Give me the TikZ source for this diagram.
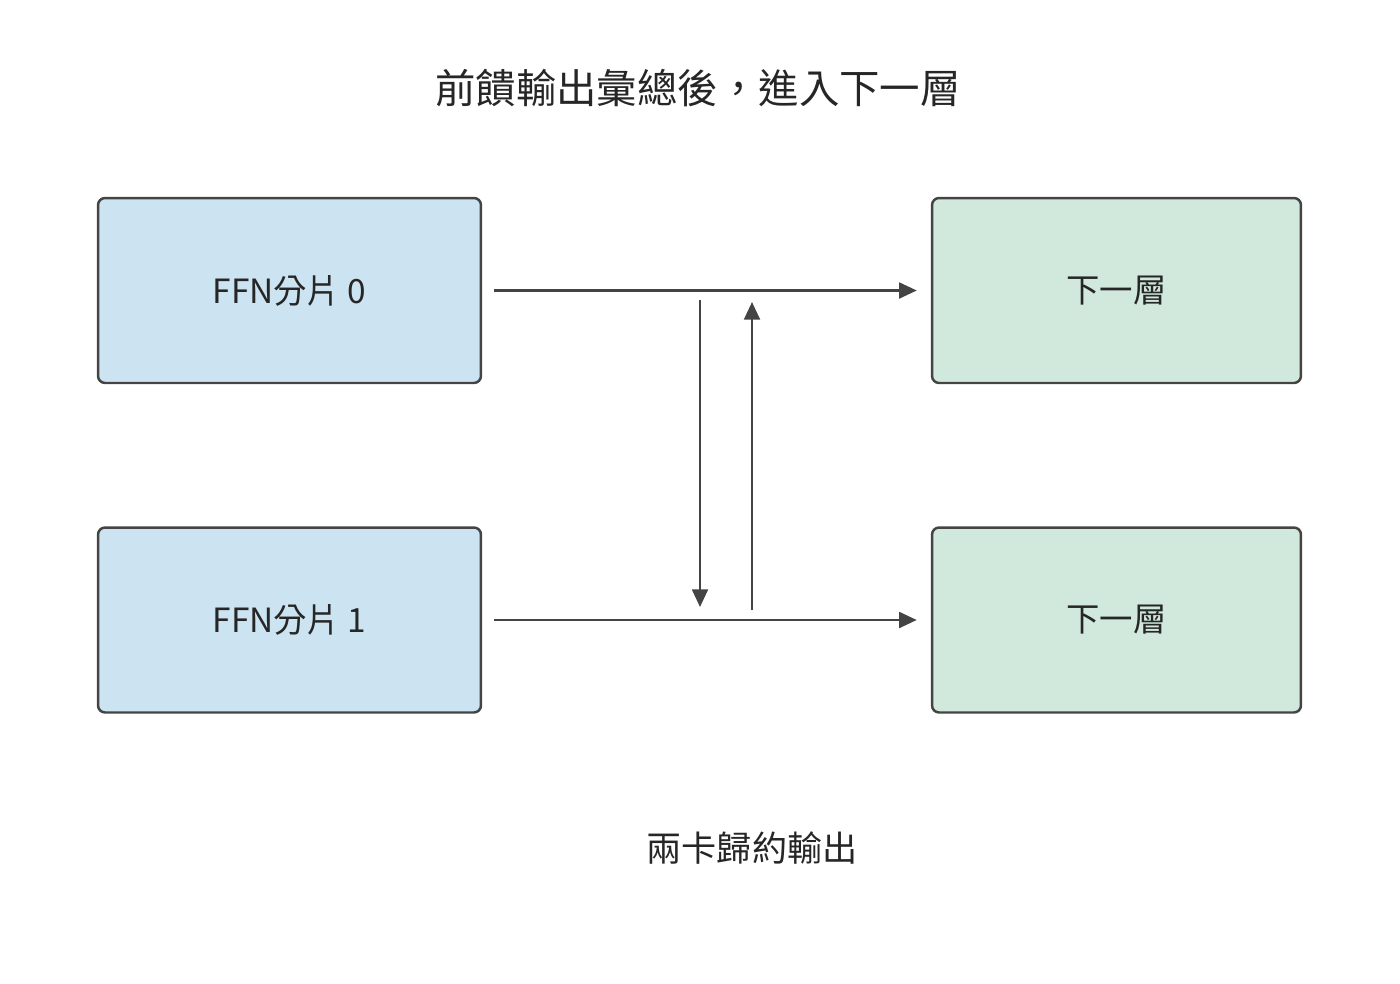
\documentclass[tikz,border=0pt]{standalone}
\usepackage{fontspec}
\setmainfont{Noto Sans CJK TC}
\usetikzlibrary{positioning, arrows.meta}
\definecolor{shardblue}{HTML}{CCE3F2}
\definecolor{nextgreen}{HTML}{D1E8DC}
\definecolor{edgegray}{HTML}{444444}
\tikzset{
  box/.style={draw=edgegray, line width=1.4pt, rounded corners=4pt, font=\fontsize{19}{22}\selectfont, text=black!85},
  flow/.style={draw=edgegray, line width=1.4pt, -{Triangle[length=10pt, width=9pt]}}
}
\begin{document}
\begin{tikzpicture}[x=0.02cm, y=-0.02cm]
  \useasboundingbox (0,0) rectangle (1400,984);
  \node[font=\fontsize{23}{26}\selectfont, text=black!85] (title) at (698,88) {前饋輸出彙總後，進入下一層};

  \node[box, fill=shardblue, minimum width=7.66cm, minimum height=3.7cm] (ffn0) at (289.5,290.5) {FFN分片 0};
  \node[box, fill=shardblue, minimum width=7.66cm, minimum height=3.7cm] (ffn1) at (289.5,620) {FFN分片 1};
  \node[box, fill=nextgreen, minimum width=7.38cm, minimum height=3.7cm] (next0) at (1116.5,290.5) {下一層};
  \node[box, fill=nextgreen, minimum width=7.38cm, minimum height=3.7cm] (next1) at (1116.5,620) {下一層};

  \node[font=\fontsize{20}{24}\selectfont, text=black!85] (reduce) at (752,848) {兩卡歸約輸出};

  \draw[flow] ([xshift=7pt]ffn0.east) -- ([xshift=-8pt]next0.west);
  \draw[flow] ([xshift=7pt]ffn1.east) -- ([xshift=-8pt]next1.west);

  \coordinate (downtop) at (700,300);
  \coordinate (downend) at (700,607);
  \coordinate (upstart) at (752,610);
  \coordinate (upend) at (752,302);
  \draw[flow] (downtop) -- (downend);
  \draw[flow] (upstart) -- (upend);
\end{tikzpicture}
\end{document}
